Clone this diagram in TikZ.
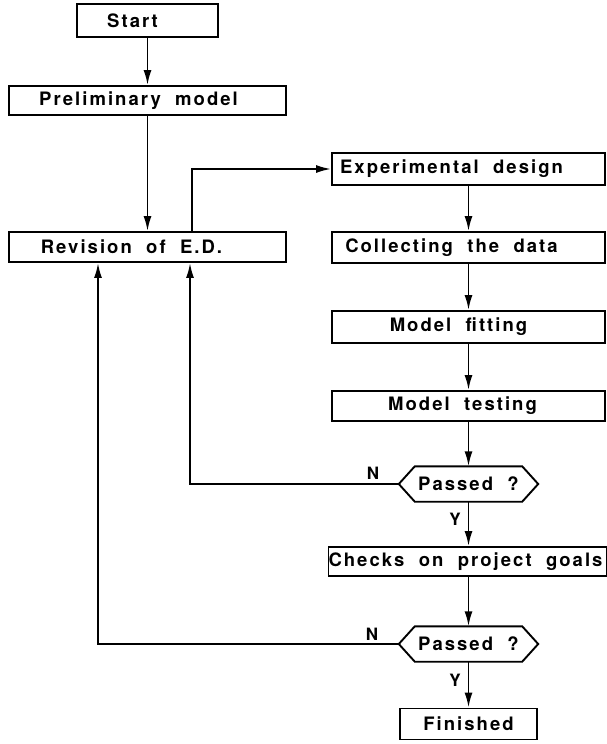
\documentclass[tikz,border=0pt]{standalone}
\usepackage{fontspec}
\setmainfont{TeX Gyre Heros}[LetterSpace=11, WordSpace=2]
\usetikzlibrary{arrows.meta,calc}
\begin{document}
\begin{tikzpicture}[x=1pt,y=-1pt,
  box/.style={draw, line width=1.9pt, inner sep=0pt, font=\bfseries\fontsize{18.5}{22}\selectfont},
  hexnode/.style={inner sep=0pt, minimum width=107pt, minimum height=35pt, font=\bfseries\fontsize{18.5}{22}\selectfont},
  hexline/.style={line width=1.9pt, line join=miter},
  lbl/.style={font=\bfseries\fontsize{17}{20}\selectfont, inner sep=0pt},
  arr/.style={line width=1.9pt, -{Latex[length=15pt,width=8pt]}}]
\useasboundingbox (0,0) rectangle (606,744);

\node[box, minimum width=141pt, minimum height=33pt] (start) at (147.5,20.5) {Start\hspace*{30pt}};
\node[box, minimum width=277pt, minimum height=29pt] (prelim) at (147.5,100.5) {Preliminary model\hspace*{18pt}};
\node[box, minimum width=277pt, minimum height=30pt] (revision) at (147.5,247) {Revision of E.D.\hspace*{32pt}};

\node[box, minimum width=273pt, minimum height=32pt] (exp) at (468.5,169) {Experimental design\hspace*{34pt}};
\node[box, minimum width=273pt, minimum height=31pt] (collect) at (468.5,247.5) {Collecting the data\hspace*{34pt}};
\node[box, minimum width=273pt, minimum height=32pt] (fitting) at (468.5,327) {Model fitting\hspace*{20pt}};
\node[box, minimum width=273pt, minimum height=30pt] (testing) at (468.5,406) {Model testing\hspace*{12pt}};

\node[hexnode] (p1) at (468.5,484) {Passed ?};
\coordinate (p1l) at ($(p1.west)+(-16,0)$);
\coordinate (p1r) at ($(p1.east)+(16,0)$);
\draw[hexline] (p1l) -- (p1.north west) -- (p1.north east) -- (p1r) -- (p1.south east) -- (p1.south west) -- cycle;

\node[box, minimum width=275pt, minimum height=29pt] (checks) at (467.5,561.5) {Checks on project goals\hspace*{4pt}};

\node[hexnode] (p2) at (468.5,644) {Passed ?};
\coordinate (p2l) at ($(p2.west)+(-16,0)$);
\coordinate (p2r) at ($(p2.east)+(16,0)$);
\draw[hexline] (p2l) -- (p2.north west) -- (p2.north east) -- (p2r) -- (p2.south east) -- (p2.south west) -- cycle;

\node[box, minimum width=137pt, minimum height=31pt] (finished) at (468.5,724) {Finished};

\node[lbl] (n1) at (373,473) {N};
\node[lbl] (y1) at (455,519) {Y};
\node[lbl] (n2) at (372,634) {N};
\node[lbl] (y2) at (455,680) {Y};

\draw[arr] (start.south) -- (prelim.north);
\draw[arr] (prelim.south) -- (revision.north);
\draw[arr] ($(revision.north)+(44.5,0)$) |- (exp.west);
\draw[arr] (exp.south) -- (collect.north);
\draw[arr] (collect.south) -- (fitting.north);
\draw[arr] (fitting.south) -- (testing.north);
\draw[arr] (testing.south) -- (p1.north);
\draw[arr] (p1.south) -- (checks.north -| p1.south);
\draw[arr] (p1l) -| ($(revision.south)+(42.5,0)$);
\draw[arr] (checks.south -| p2.north) -- (p2.north);
\draw[arr] (p2l) -| ($(revision.south)+(-49.5,0)$);
\draw[arr] (p2.south) -- (finished.north);
\end{tikzpicture}
\end{document}
